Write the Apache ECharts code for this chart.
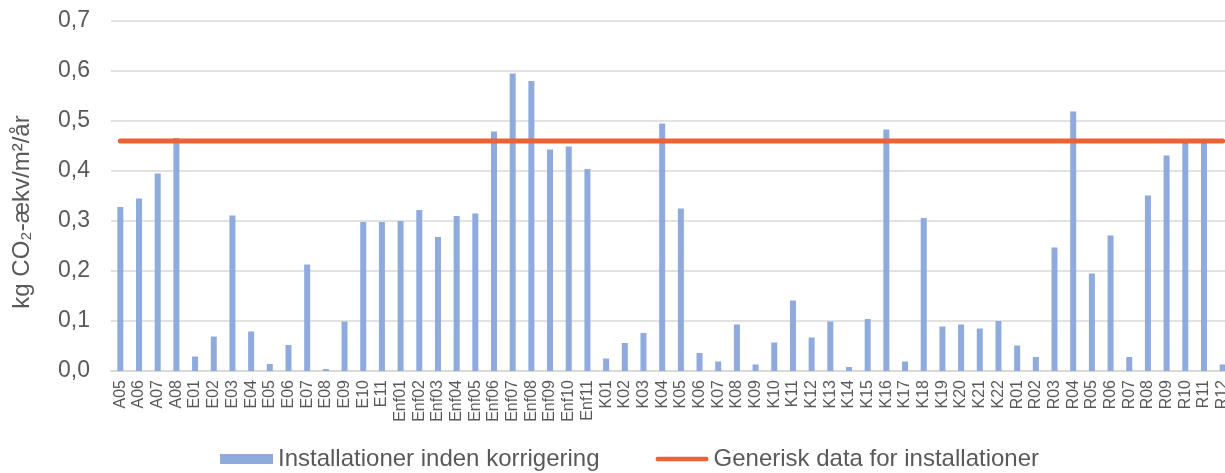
<!DOCTYPE html>
<html>
<head>
<meta charset="utf-8">
<script src="https://cdn.jsdelivr.net/npm/echarts@6/dist/echarts.min.js"></script>
<style>
html, body { margin: 0; padding: 0; overflow: hidden; background: #fff; }
#chart { width: 1232px; height: 473px; }
</style>
</head>
<body>
<div id="chart"></div>
<script>
const categories = [
  'A05','A06','A07','A08',
  'E01','E02','E03','E04','E05','E06','E07','E08','E09','E10','E11',
  'Enf01','Enf02','Enf03','Enf04','Enf05','Enf06','Enf07','Enf08','Enf09','Enf10','Enf11',
  'K01','K02','K03','K04','K05','K06','K07','K08','K09','K10','K11','K12','K13','K14','K15','K16','K17','K18','K19','K20','K21','K22',
  'R01','R02','R03','R04','R05','R06','R07','R08','R09','R10','R11','R12'
];
const barValues = [
  0.328, 0.345, 0.395, 0.466,
  0.029, 0.069, 0.311, 0.079, 0.014, 0.052, 0.213, 0.004, 0.099, 0.298, 0.298,
  0.300, 0.322, 0.268, 0.310, 0.315, 0.479, 0.595, 0.580, 0.443, 0.449, 0.404,
  0.025, 0.056, 0.076, 0.495, 0.325, 0.036, 0.019, 0.093, 0.013, 0.057, 0.141, 0.067, 0.099, 0.008, 0.104, 0.483, 0.019, 0.306, 0.089, 0.093, 0.085, 0.100,
  0.051, 0.028, 0.247, 0.519, 0.195, 0.271, 0.028, 0.351, 0.431, 0.460, 0.462, 0.013
];
const genericValue = 0.46;
const genericValues = categories.map(() => genericValue);
const barName = 'Installationer inden korrigering';
const lineName = 'Generisk data for installationer';
const yAxisName = 'kg CO\u2082-\u00e6kv/m\u00b2/\u00e5r';

const chart = echarts.init(document.getElementById('chart'), null, { renderer: 'canvas' });
const font = 'Liberation Sans, Arial, sans-serif';
const lineIcon = 'path://M2.5,0 L54.5,0 A2.5,2.5 0 0 1 54.5,5 L2.5,5 A2.5,2.5 0 0 1 2.5,0 Z';
chart.setOption({
  animation: false,
  textStyle: { fontFamily: font, color: '#595959' },
  grid: { left: 111, right: 0, top: 21, bottom: 102, containLabel: false },
  legend: {
    left: 215,
    top: 442,
    itemWidth: 53,
    itemHeight: 10,
    itemGap: 56,
    textStyle: { fontSize: 24, color: '#595959', fontFamily: font },
    data: [
      { name: barName, icon: 'rect' },
      { name: lineName, icon: lineIcon, itemStyle: { color: '#ed6134' } }
    ]
  },
  xAxis: {
    type: 'category',
    data: categories,
    boundaryGap: true,
    axisLine: { lineStyle: { color: '#d9d9d9', width: 2 } },
    axisTick: { show: false },
    axisLabel: { rotate: 90, interval: 0, fontSize: 16, color: '#595959', margin: 9, fontFamily: font }
  },
  yAxis: {
    type: 'value',
    min: 0,
    max: 0.7,
    interval: 0.1,
    name: yAxisName,
    nameLocation: 'middle',
    nameGap: 77,
    nameTextStyle: { fontSize: 24, color: '#595959', fontFamily: font, padding: [0, 32, 0, 0] },
    axisLine: { show: false },
    axisTick: { show: false },
    splitLine: { lineStyle: { color: '#d9d9d9', width: 1.5 } },
    axisLabel: {
      fontSize: 23, color: '#595959', margin: 21, fontFamily: font,
      formatter: v => v.toFixed(1).replace('.', ',')
    }
  },
  series: [
    {
      name: barName,
      type: 'bar',
      data: barValues,
      barWidth: 6,
      itemStyle: { color: '#8faadc' },
      z: 2
    },
    {
      name: lineName,
      type: 'line',
      data: genericValues,
      symbol: 'none',
      showSymbol: false,
      lineStyle: { color: '#ed6134', width: 5, cap: 'round' },
      itemStyle: { color: '#ed6134' },
      z: 3
    }
  ]
});
</script>
</body>
</html>
